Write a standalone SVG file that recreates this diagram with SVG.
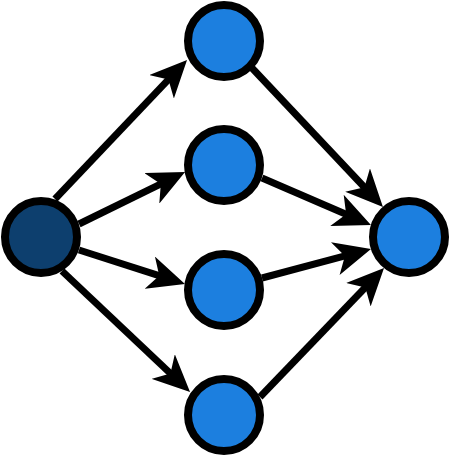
<svg xmlns="http://www.w3.org/2000/svg" width="451" height="457" viewBox="0 0 451 457">
<defs>
<style>
.node{stroke:#000;stroke-width:8}
.src{fill:#0d3f6e}
.dst{fill:#1c7fdf}
.edge{stroke:#000;stroke-width:7;fill:none;marker-end:url(#arr)}
</style>
<marker id="arr" markerUnits="userSpaceOnUse" markerWidth="37" markerHeight="34" viewBox="0 0 37 34" refX="13" refY="17" orient="auto">
<path d="M0,0 L37,17 L0,34 L10,17 Z" fill="#000"/>
</marker>
</defs>
<rect width="451" height="457" fill="#fff"/>
<g id="edges">
<line class="edge" x1="55" y1="199" x2="170.5" y2="77.4"/>
<line class="edge" x1="79" y1="224" x2="163.5" y2="182.6"/>
<line class="edge" x1="79" y1="250" x2="162.1" y2="276.7"/>
<line class="edge" x1="62" y1="271" x2="172.6" y2="375.5"/>
<line class="edge" x1="252" y1="68" x2="366.5" y2="189.5"/>
<line class="edge" x1="262" y1="178" x2="348.9" y2="215.5"/>
<line class="edge" x1="262" y1="278" x2="347.8" y2="255.2"/>
<line class="edge" x1="260" y1="397" x2="367.4" y2="285.3"/>
</g>
<g id="n0"><circle class="node src" cx="41" cy="237" r="36"/></g>
<g id="n1"><circle class="node dst" cx="224" cy="41" r="36"/></g>
<g id="n2"><circle class="node dst" cx="224" cy="165" r="36"/></g>
<g id="n3"><circle class="node dst" cx="224" cy="290" r="36"/></g>
<g id="n4"><circle class="node dst" cx="224" cy="415" r="36"/></g>
<g id="n5"><circle class="node dst" cx="409" cy="237" r="36"/></g>
</svg>
